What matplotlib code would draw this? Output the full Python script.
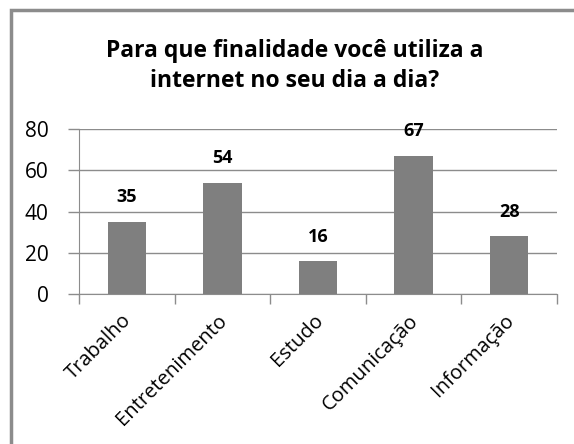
import matplotlib
matplotlib.use("Agg")
import matplotlib.pyplot as plt
from matplotlib.patches import Rectangle
from matplotlib.transforms import ScaledTranslation

categories = ["Trabalho", "Entretenimento", "Estudo", "Comunicação", "Informação"]
values = [35, 54, 16, 67, 28]
yticks = [0, 20, 40, 60, 80]
title = "Para que finalidade você utiliza a\ninternet no seu dia a dia?"

plt.rcParams['font.family'] = ['Open Sans', 'DejaVu Sans']

W, H = 574, 444
fig = plt.figure(figsize=(W/100, H/100), dpi=100)
fig.patch.set_facecolor("white")

# outer frame (left and top visible, rest cut off)
fig.patches.append(Rectangle((11/W, -0.1), 1.2, (H-10)/H + 0.1, transform=fig.transFigure,
                             fill=False, edgecolor="#8c8c8c", linewidth=2.5))

x0, x1 = 79, 557
y0, y1 = 294, 129
ax = fig.add_axes([x0/W, 1 - y0/H, (x1-x0)/W, (y0-y1)/H])

pos = list(range(len(categories)))
ax.bar(pos, values, width=0.4, color="#7f7f7f", zorder=3)
for p, v in zip(pos, values):
    ax.text(p, v + 7.5, str(v), ha="center", va="bottom", fontsize=13, fontweight="bold", color="black")

ax.set_xlim(-0.5, len(categories) - 0.5)
ax.set_ylim(0, 80)
ax.set_yticks(yticks)
ax.set_yticklabels([str(t) for t in yticks], fontsize=15)
ax.yaxis.grid(True, color="#8c8c8c", linewidth=1, zorder=0)
ax.tick_params(axis="y", length=8, color="#8c8c8c", width=1, pad=14)

ax.set_xticks([p + 0.5 for p in [-1] + pos], minor=False)
ax.set_xticklabels([])
ax.set_xticks(pos, minor=True)
ax.set_xticklabels(categories, minor=True, rotation=45, ha="right", rotation_mode="anchor", fontsize=14.5)
ax.tick_params(axis="x", which="major", length=7, color="#8c8c8c", width=1)
ax.tick_params(axis="x", which="minor", length=0, pad=12)
shift = ScaledTranslation(-5/100, 0, fig.dpi_scale_trans)
for lbl in ax.get_xticklabels(minor=True):
    lbl.set_transform(lbl.get_transform() + shift)

for s in ["top", "right"]:
    ax.spines[s].set_visible(False)
ax.spines["left"].set_color("#8c8c8c")
ax.spines["bottom"].set_color("#8c8c8c")

fig.text(295/W, 1 - 66/H, title, ha="center", va="center", fontsize=16.5, fontweight="bold",
         linespacing=1.35)

fig.savefig("out.png", dpi=100)
